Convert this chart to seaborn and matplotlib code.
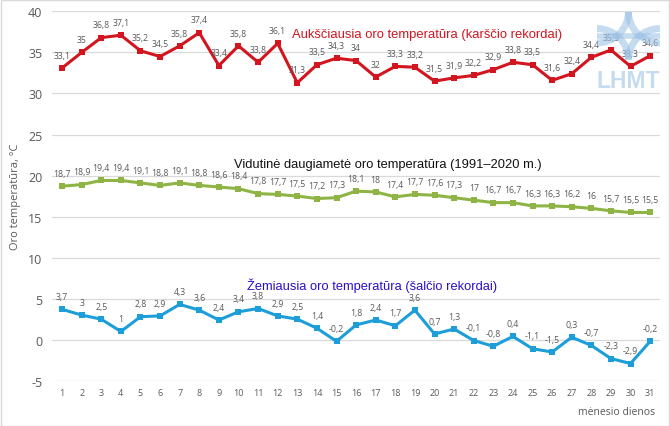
import numpy as np
import pandas as pd
import matplotlib
matplotlib.use("Agg")
import matplotlib.pyplot as plt
import seaborn as sns
from matplotlib.patches import Arc

# data
days = list(range(1, 32))
max_temp = [33.1, 35, 36.8, 37.1, 35.2, 34.5, 35.8, 37.4, 33.4, 35.8, 33.8, 36.1, 31.3, 33.5, 34.3, 34,
            32, 33.3, 33.2, 31.5, 31.9, 32.2, 32.9, 33.8, 33.5, 31.6, 32.4, 34.4, 35.3, 33.3, 34.6]
avg_temp = [18.7, 18.9, 19.4, 19.4, 19.1, 18.8, 19.1, 18.8, 18.6, 18.4, 17.8, 17.7, 17.5, 17.2, 17.3, 18.1,
            18, 17.4, 17.7, 17.6, 17.3, 17, 16.7, 16.7, 16.3, 16.3, 16.2, 16, 15.7, 15.5, 15.5]
min_temp = [3.7, 3, 2.5, 1, 2.8, 2.9, 4.3, 3.6, 2.4, 3.4, 3.8, 2.9, 2.5, 1.4, -0.2, 1.8,
            2.4, 1.7, 3.6, 0.7, 1.3, -0.1, -0.8, 0.4, -1.1, -1.5, 0.3, -0.7, -2.3, -2.9, -0.2]
series_names = ["max", "avg", "min"]
series_colors = {"max": "#D2151F", "avg": "#8DB444", "min": "#1E9ED9"}
y_ticks = [-5, 0, 5, 10, 15, 20, 25, 30, 35, 40]

df = pd.DataFrame({
    "day": days * 3,
    "temp": max_temp + avg_temp + min_temp,
    "series": ["max"] * 31 + ["avg"] * 31 + ["min"] * 31,
})

sns.set_theme(style="white")
plt.rcParams["font.family"] = ["Liberation Sans", "DejaVu Sans"]
plt.rcParams["axes.unicode_minus"] = False

fig = plt.figure(figsize=(6.7, 4.27), dpi=100)
ax = fig.add_axes([0.078, 0.106, 0.907, 0.865])

sns.lineplot(data=df, x="day", y="temp", hue="series", hue_order=series_names,
             palette=series_colors, style="series", markers={"max": "s", "avg": "s", "min": "s"},
             dashes=False, markersize=5, markeredgewidth=0, linewidth=2.2, legend=False, ax=ax)

# data labels
for name, vals in zip(series_names, [max_temp, avg_temp, min_temp]):
    for d, v in zip(days, vals):
        ax.annotate(f"{v:g}".replace(".", ","), (d, v), xytext=(0, 6), textcoords="offset points",
                    ha="center", va="bottom", fontsize=6.3, color="#595959",
                    family=["Open Sans", "DejaVu Sans"])

ax.set_xlim(0.5, 31.5)
ax.set_ylim(-5, 40)
ax.set_yticks(y_ticks)
ax.set_xticks(days)
ax.yaxis.grid(True, color="#D9D9D9", linewidth=0.9)
ax.xaxis.grid(False)
for s in ax.spines.values():
    s.set_visible(False)
ax.tick_params(axis="x", labelsize=6.5, colors="#595959", pad=5, length=0)
ax.tick_params(axis="y", labelsize=9, colors="#595959", pad=7, length=0)
for lab in ax.get_xticklabels() + ax.get_yticklabels():
    lab.set_family(["Open Sans", "DejaVu Sans"])
ax.set_xlabel("")
ax.set_ylabel("Oro temperatūra, °C", fontsize=8, color="#595959", labelpad=5,
              family=["Open Sans", "DejaVu Sans"])

# series titles
ax.text(19.6, 37.2, "Aukščiausia oro temperatūra (karščio rekordai)", color="#D2151F",
        fontsize=9.4, ha="center", va="center")
ax.text(17.6, 21.4, "Vidutinė daugiametė oro temperatūra (1991–2020 m.)", color="#111111",
        fontsize=9.3, ha="center", va="center")
ax.text(16.8, 6.75, "Žemiausia oro temperatūra (šalčio rekordai)", color="#2A10C8",
        fontsize=9.3, ha="center", va="center")

fig.text(0.978, 0.033, "mėnesio dienos", ha="right", va="center", fontsize=7.5, color="#595959",
         family=["Open Sans", "DejaVu Sans"])

# LHMT logo (approximate), drawn semi-transparent on top like the original
logo_c = "#9DC3E6"
fig.text(0.937, 0.81, "LHMT", ha="center", va="center", fontsize=16.5, fontweight="bold",
         color=logo_c, alpha=0.6, zorder=10)
lax = fig.add_axes([0.891, 0.858, 0.094, 0.112], zorder=10)
lax.set_xlim(0, 1)
lax.set_ylim(0, 1)
lax.axis("off")
lax.patch.set_alpha(0)
for cx, cy, t1, t2 in [(0, 1, 270, 360), (1, 1, 180, 270), (0, 0, 0, 90), (1, 0, 90, 180)]:
    lax.add_patch(Arc((cx, cy), 1.0, 1.3, theta1=t1, theta2=t2, color=logo_c, lw=5, alpha=0.6))
lax.plot([0, 1], [0.5, 0.5], color=logo_c, lw=4, alpha=0.6)

# light frame around the image
fig.patches.append(plt.Rectangle((0.001, 0.001), 0.998, 0.997, transform=fig.transFigure,
                                 fill=False, edgecolor="#D9D9D9", linewidth=1))

fig.savefig("out.png", dpi=100)
